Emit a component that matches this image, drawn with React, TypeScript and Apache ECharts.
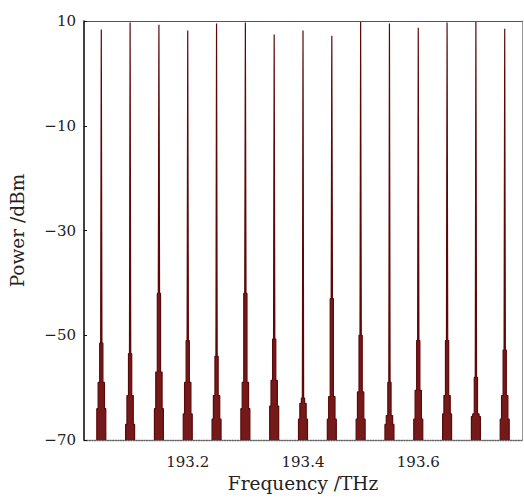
import React, { useEffect, useRef } from "react";
import * as echarts from "echarts";

// Comb line centre frequencies (THz)
const peakFreq = [193.05, 193.1, 193.15, 193.2, 193.25, 193.3, 193.35, 193.4, 193.45, 193.5, 193.55, 193.6, 193.65, 193.7, 193.75];
// Peak power of each comb line (dBm)
const peakPower = [8.4, 9.7, 9.3, 8.2, 9.5, 9.7, 7.4, 8.2, 7.2, 9.8, 9.5, 8.7, 9.7, 9.8, 8.5];
// Side-lobe / pedestal levels of each line (dBm), from narrowest to widest
const shoulder1 = [-51.5, -53.5, -42, -51, -54, -42, -50.7, -62, -43, -50, -59, -51, -51, -58, -52.8];
const shoulder2 = [-59, -61.5, -57, -59, -61.5, -59, -58.6, -63, -61.7, -60.8, -65.3, -60.5, -61.5, -65, -61.5];
const shoulder3 = [-64, -67, -64, -65, -66, -64, -63.5, -66, -66, -66, -67, -66, -65, -65.5, -66];
// Half-widths (THz) of the pedestal steps
const halfWidths = [0.0011, 0.0028, 0.0055, 0.0078];
const floorLevel = -70;

const xTickLabels = [193.2, 193.4, 193.6];

const fontFamily = "'DejaVu Serif', serif";

function buildLine(i: number): number[][] {
  const c = peakFreq[i];
  const [w1, w2, w3, w4] = halfWidths;
  const left = [
    [c - w4, floorLevel],
    [c - w4, shoulder3[i]],
    [c - w3, shoulder3[i]],
    [c - w3, shoulder2[i]],
    [c - w2, shoulder2[i]],
    [c - w2, shoulder1[i]],
    [c - w1, shoulder1[i]],
  ];
  const right = left.map(([x, y]) => [2 * c - x, y]).reverse();
  return [...left, [c, peakPower[i]], ...right];
}

export default function App() {
  const ref = useRef<HTMLDivElement>(null);
  useEffect(() => {
    if (!ref.current) return;
    const chart = echarts.init(ref.current, null, { renderer: "svg" });
    const series = peakFreq.map((_, i) => ({
      type: "line",
      data: buildLine(i),
      showSymbol: false,
      symbol: "none",
      lineStyle: { color: "#5c0808", width: 1.2 },
      areaStyle: { color: "#6e0e0e", opacity: 0.95, origin: "start" },
      clip: true,
      silent: true,
      z: 3,
    }));
    chart.setOption({
      animation: false,
      backgroundColor: "#ffffff",
      grid: { left: 83, top: 21, right: 2, bottom: 57, containLabel: false },
      xAxis: [
        {
          type: "value",
          min: 193.02,
          max: 193.78,
          name: "Frequency /THz",
          nameLocation: "middle",
          nameGap: 32,
          nameTextStyle: { fontFamily, fontSize: 18.5, color: "#222" },
          axisLine: { onZero: false, show: true, lineStyle: { color: "#666", type: "dotted", width: 1.3 } },
          axisTick: { show: false },
          splitLine: { show: false },
          axisLabel: {
            customValues: xTickLabels,
            margin: 14,
            fontFamily,
            fontSize: 15,
            color: "#222",
            formatter: (v: number) => v.toFixed(1),
          },
        },
        {
          type: "value",
          position: "top",
          min: 193.02,
          max: 193.78,
          axisLine: { show: true, onZero: false, lineStyle: { color: "#555", width: 1.2 } },
          axisTick: { show: false },
          axisLabel: { show: false },
          splitLine: { show: false },
        },
      ],
      yAxis: [
        {
          type: "value",
          min: -70,
          max: 10,
          interval: 20,
          name: "Power /dBm",
          nameLocation: "middle",
          nameGap: 57,
          nameRotate: 90,
          nameTextStyle: { fontFamily, fontSize: 18.5, color: "#222" },
          axisLine: { show: true, onZero: false, lineStyle: { color: "#111", width: 1.6 } },
          axisTick: { show: true, inside: true, length: 3, lineStyle: { color: "#111" } },
          splitLine: { show: false },
          axisLabel: {
            margin: 8,
            fontFamily,
            fontSize: 15,
            color: "#222",
            formatter: (v: number) => String(v).replace("-", "\u2212"),
          },
        },
        {
          type: "value",
          position: "right",
          min: -70,
          max: 10,
          interval: 20,
          axisLine: { show: true, onZero: false, lineStyle: { color: "#999", width: 1 } },
          axisTick: { show: false },
          axisLabel: { show: false },
          splitLine: { show: false },
        },
      ],
      series,
    });
    return () => chart.dispose();
  }, []);
  return <div ref={ref} style={{ width: 524, height: 498, position: "absolute", left: 0, top: 0 }} />;
}
